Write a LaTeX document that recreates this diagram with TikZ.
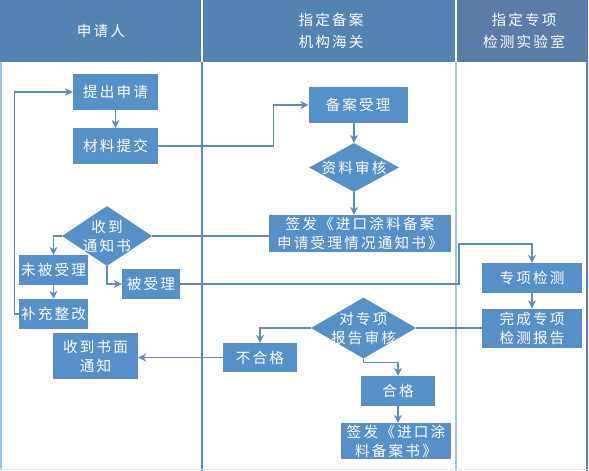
\documentclass[tikz,border=0pt]{standalone}
\usepackage{fontspec}
\usetikzlibrary{arrows.meta, shapes.geometric}
\newfontfamily\cjk{Noto Sans CJK SC}[LetterSpace=15]
\usepackage{xcolor}
\definecolor{headblue}{HTML}{5283B3}
\definecolor{headgrey}{HTML}{5A7CA8}
\definecolor{boxblue}{HTML}{5591C8}
\definecolor{lineblue}{HTML}{5B8EC4}
\definecolor{lanelight}{HTML}{9DC3E6}
\definecolor{lanedark}{HTML}{5B8CC0}

\begin{document}
\begin{tikzpicture}[x=1pt, y=-1pt,
	box/.style={fill=boxblue, text=white, inner sep=0pt, align=center,
		font=\cjk\fontsize{14.6}{19}\selectfont},
	decide/.style={diamond, fill=boxblue, inner sep=0pt},
	inside/.style={text=white, align=center, font=\cjk\fontsize{14.6}{19}\selectfont},
	head/.style={text=white, align=center, font=\cjk\fontsize{14.6}{22}\selectfont},
	arr/.style={-{Stealth[length=8pt, width=8pt]}, lineblue, line width=1.2pt},
	link/.style={lineblue, line width=1.2pt}]
			\useasboundingbox (0,0) rectangle (589,471);
			
			% lanes
			\fill[headblue] (0,0) rectangle (201.2,62);
			\fill[headblue] (202.8,0) rectangle (455,62);
			\fill[headgrey] (457,0) rectangle (588,62);
			\draw[lanelight, line width=1.5pt] (1,62) -- (1,469);
			\draw[lanedark, line width=1.5pt] (202,62) -- (202,471);
			\draw[lanelight, line width=2pt] (456,62) -- (456,471);
			\draw[headgrey, line width=1.2pt] (587,62) -- (587,471);
			\draw[lanelight!40, line width=1.5pt] (0,469.5) -- (589,469.5);
			
			\node[head] (h1) at (101,31) {申请人};
			\node[head] (h2) at (331,31) {指定备案\\机构海关};
			\node[head] (h3) at (524,31) {指定专项\\检测实验室};
			
			% applicant
			\node[box, minimum width=85pt, minimum height=36pt] (tichu) at (115.5,92) {提出申请};
			\node[box, minimum width=85pt, minimum height=36pt] (tijiao) at (115.5,146) {材料提交};
			\node[decide, minimum width=90pt, minimum height=60pt, label={[inside]center:收到\\通知书}] (shoudao) at (107,236) {};
			\node[box, minimum width=69pt, minimum height=30pt] (weishouli) at (53.5,270) {未被受理};
			\node[box, minimum width=58pt, minimum height=30pt] (beishouli) at (151,284) {被受理};
			\node[box, minimum width=69pt, minimum height=30pt] (buchong) at (53.5,314) {补充整改};
			\node[box, minimum width=85pt, minimum height=46pt] (shumian) at (95.5,356) {收到书面\\通知};
			
			% customs
			\node[box, minimum width=99pt, minimum height=36pt] (beian) at (358,105) {备案受理};
			\node[decide, minimum width=90pt, minimum height=49pt, label={[inside]center:资料审核}] (ziliao) at (354,167.5) {};
			\node[box, minimum width=182pt, minimum height=37pt] (qianfa) at (360,233.5) {签发《进口涂料备案\\申请受理情况通知书》};
			\node[decide, minimum width=105pt, minimum height=61pt, label={[inside]center:对专项\\报告审核}] (shenhe) at (363.5,328) {};
			\node[box, minimum width=74pt, minimum height=29pt] (buhege) at (260,357.5) {不合格};
			\node[box, minimum width=74pt, minimum height=30pt] (hege) at (398,391) {合格};
			\node[box, minimum width=110pt, minimum height=36pt] (beianshu) at (396,441) {签发《进口涂\\料备案书》};
			
			% laboratory
			\node[box, minimum width=100pt, minimum height=30pt] (jiance) at (532,278) {专项检测};
			\node[box, minimum width=100pt, minimum height=39pt] (baogao) at (532,328) {完成专项\\检测报告};
			
			\draw[arr] (tichu) -- (tijiao);
			\draw[arr] (tijiao.east) -- ++(115,0) |- (beian.west);
			\draw[arr] (ziliao.north |- beian.south) -- (ziliao.north);
			\draw[arr] (ziliao.south) -- (ziliao.south |- qianfa.north);
			\draw[link] (qianfa.west |- shoudao.east) -- (shoudao.east);
			\draw[arr] (shoudao.west) -| (weishouli.north);
			\draw[arr] (shoudao.south) |- (beishouli.west);
			\draw[arr] (weishouli) -- (buchong);
			\draw[arr] (buchong.west) -- ++(-4,0) |- (tichu.west);
			\draw[arr] (beishouli.east) -| (459,244) -| (jiance.north);
			\draw[arr] (jiance) -- (baogao);
			\draw[link] (baogao.west) -- (shenhe.east);
			\draw[arr] (shenhe.west) -| (buhege.north);
			\draw[arr] (buhege.west) -- (buhege.west -| shumian.east);
			\draw[arr] (shenhe.south) -- ++(0,4) -| (hege.north);
			\draw[arr] (hege.south) -- (hege.south |- beianshu.north);
		\end{tikzpicture}
\end{document}
